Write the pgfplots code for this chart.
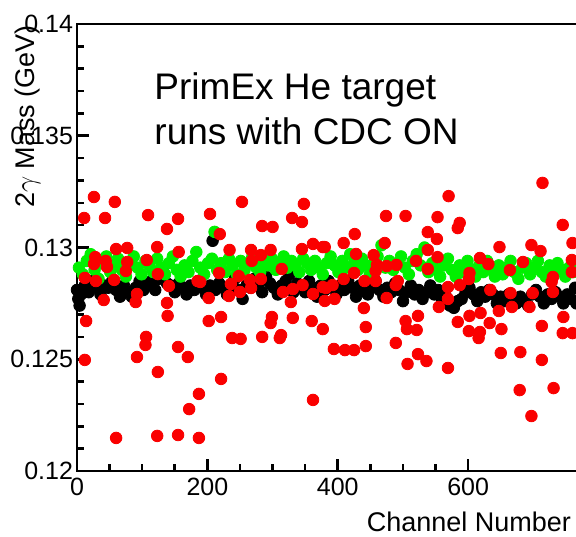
\documentclass[border=0pt]{standalone}
\usepackage{fontspec}
\setmainfont{Liberation Sans}
\usepackage{pgfplots}
\pgfplotsset{compat=1.18}

\definecolor{rootred}{RGB}{250,0,0}
\definecolor{rootgreen}{RGB}{0,240,0}

\begin{document}
\begin{tikzpicture}
\useasboundingbox (-38.5pt,-32.5pt) rectangle (249.5pt,235.5pt);
\begin{axis}[
    at={(0,0)}, anchor=south west,
    scale only axis,
    width=251pt, height=223.5pt,
    xmin=0, xmax=770,
    ymin=0.12, ymax=0.14,
    xtick={0,200,400,600},
    minor x tick num=3,
    ytick={0.12,0.125,0.13,0.135,0.14},
    yticklabels={0.12,0.125,0.13,0.135,0.14},
    minor y tick num=4,
    tick align=inside,
    xtick pos=left, ytick pos=left,
    major tick length=6pt, minor tick length=3.5pt,
    axis line style={line width=1.3pt},
    every tick/.style={black, line width=1.3pt},
    /pgf/number format/assume math mode=true,
    tick label style={font=\fontsize{12.5}{14}\selectfont},
    yticklabel style={xshift=1.5pt},
    xlabel={Channel Number},
    ylabel={2$\gamma$ Mass (GeV)},
    label style={font=\fontsize{13.5}{16}\selectfont},
    xlabel style={at={(axis description cs:0.998,0)}, anchor=base east, yshift=-30pt},
    ylabel style={at={(axis description cs:-0.0976,1.013)}, anchor=east},
    clip=false,
    every axis plot/.append style={only marks, mark=*, mark size=2.9pt},
]
% black series
\addplot[black, mark options={draw=black, fill=black}] coordinates {
(0,0.1281) (2,0.1277) (4,0.1274) (6,0.1279) (12,0.1283) (18,0.1280) (24,0.1285)
(30,0.1282) (36,0.1279) (42,0.1283) (48,0.1282) (54,0.1285) (60,0.1281) (66,0.1278)
(72,0.1283) (78,0.1280) (84,0.1278) (90,0.1282) (96,0.1285) (102,0.1281) (108,0.1283)
(114,0.1285) (120,0.1281) (126,0.1286) (132,0.1289) (138,0.1284) (144,0.1283) (150,0.1280)
(156,0.1284) (162,0.1282) (168,0.1279) (174,0.1283) (180,0.1281) (186,0.1285) (192,0.1282)
(198,0.1279) (204,0.1283) (208,0.1303) (212,0.1281) (218,0.1284) (224,0.1282) (230,0.1279)
(236,0.1283) (242,0.1286) (248,0.1281) (254,0.1277) (260,0.1283) (266,0.1282) (272,0.1286)
(278,0.1283) (284,0.1280) (290,0.1287) (296,0.1284) (302,0.1282) (308,0.1279) (314,0.1283)
(320,0.1285) (326,0.1288) (332,0.1280) (338,0.1284) (344,0.1283) (350,0.1280) (356,0.1285)
(362,0.1282) (368,0.1278) (374,0.1283) (380,0.1281) (386,0.1285) (392,0.1282) (398,0.1279)
(404,0.1283) (410,0.1281) (416,0.1285) (422,0.1282) (428,0.1278) (434,0.1283) (440,0.1281)
(446,0.1279) (452,0.1282) (458,0.1285) (464,0.1281) (470,0.1278) (476,0.1282) (482,0.1280)
(488,0.1284) (494,0.1281) (500,0.1276) (506,0.1280) (512,0.1283) (518,0.1279) (524,0.1281)
(530,0.1277) (536,0.1280) (542,0.1283) (548,0.1279) (554,0.1281) (560,0.1276) (566,0.1278)
(572,0.1274) (578,0.1273) (584,0.1276) (590,0.1277) (596,0.1280) (602,0.1282) (608,0.1279)
(614,0.1276) (620,0.1280) (626,0.1278) (632,0.1281) (638,0.1279) (644,0.1275) (650,0.1278)
(656,0.1276) (662,0.1279) (668,0.1277) (674,0.1275) (680,0.1278) (686,0.1276) (692,0.1274)
(698,0.1279) (704,0.1281) (710,0.1278) (716,0.1275) (722,0.1279) (728,0.1277) (734,0.1280)
(740,0.1278) (746,0.1275) (752,0.1279) (758,0.1277) (764,0.1282) (766,0.1275)
};
% green series
\addplot[rootgreen, mark options={draw=rootgreen, fill=rootgreen}] coordinates {
(3,0.1291) (9,0.1288) (15,0.1294) (21,0.1297) (27,0.1290) (33,0.1286) (39,0.1293)
(45,0.1296) (51,0.1289) (57,0.1292) (63,0.1295) (69,0.1290) (75,0.1287) (81,0.1293)
(87,0.1296) (93,0.1291) (99,0.1288) (105,0.1294) (111,0.1292) (117,0.1289) (123,0.1295)
(129,0.1291) (135,0.1288) (141,0.1293) (147,0.1296) (153,0.1290) (159,0.1287) (165,0.1292)
(171,0.1289) (177,0.1294) (183,0.1298) (189,0.1291) (195,0.1288) (201,0.1293) (207,0.1295)
(211,0.1307) (215,0.1290) (221,0.1293) (227,0.1289) (233,0.1295) (239,0.1292) (245,0.1288)
(251,0.1294) (257,0.1290) (263,0.1293) (269,0.1296) (275,0.1291) (281,0.1289) (287,0.1294)
(293,0.1292) (299,0.1295) (305,0.1290) (311,0.1293) (317,0.1296) (323,0.1291) (329,0.1294)
(335,0.1292) (341,0.1289) (347,0.1295) (353,0.1293) (359,0.1290) (365,0.1294) (371,0.1291)
(377,0.1288) (383,0.1293) (389,0.1296) (395,0.1292) (401,0.1289) (407,0.1294) (413,0.1291)
(419,0.1297) (425,0.1293) (431,0.1290) (437,0.1295) (443,0.1292) (449,0.1288) (455,0.1293)
(461,0.1296) (467,0.1301) (473,0.1291) (479,0.1294) (485,0.1290) (491,0.1293) (497,0.1296)
(503,0.1291) (509,0.1288) (515,0.1294) (521,0.1297) (527,0.1292) (533,0.1300) (539,0.1289)
(545,0.1293) (551,0.1290) (557,0.1287) (563,0.1292) (569,0.1295) (575,0.1290) (581,0.1287)
(587,0.1292) (593,0.1289) (599,0.1294) (605,0.1290) (611,0.1287) (617,0.1292) (623,0.1289)
(629,0.1294) (635,0.1290) (641,0.1287) (647,0.1292) (653,0.1288) (659,0.1291) (665,0.1294)
(671,0.1289) (677,0.1286) (683,0.1291) (689,0.1293) (695,0.1288) (701,0.1291) (707,0.1294)
(713,0.1289) (719,0.1287) (725,0.1292) (731,0.1289) (737,0.1293) (743,0.1290) (749,0.1287)
(755,0.1291) (761,0.1289) (767,0.1292)
};
% red series
\addplot[rootred, mark options={draw=rootred, fill=rootred}] coordinates {
(11,0.13132) (26,0.13226) (58,0.13204) (43,0.13132) (109,0.13145) (155,0.13128) (138,0.13083)
(60,0.12993) (77,0.12998) (123,0.13002) (156,0.12980) (28,0.12957) (44,0.12940) (26,0.12926)
(46,0.12913) (77,0.12935) (107,0.12944) (75,0.12895) (12,0.12864) (29,0.12850) (57,0.12855)
(124,0.12881) (141,0.12828) (185,0.12850) (92,0.12792) (90,0.12756) (41,0.12765) (138,0.12752)
(139,0.12694) (14,0.12671) (106,0.12600) (105,0.12564) (155,0.12555) (92,0.12510) (170,0.12510)
(12,0.12497) (124,0.12443) (187,0.12345) (172,0.12277) (60,0.12148) (123,0.12157) (155,0.12161)
(187,0.12148) (221,0.12412)
(253,0.13204) (204,0.13150) (348,0.13195) (330,0.13132) (345,0.13114) (284,0.13096) (300,0.13092)
(219,0.13060) (234,0.12989) (267,0.12989) (297,0.12989) (282,0.12966) (345,0.12993) (362,0.13016)
(377,0.13002) (268,0.12940) (218,0.12886) (314,0.12904) (248,0.12872) (265,0.12855) (282,0.12859)
(236,0.12837) (189,0.12846) (346,0.12832) (377,0.12823) (267,0.12819) (331,0.12814) (316,0.12801)
(362,0.12792) (250,0.12801) (233,0.12783) (202,0.12774) (328,0.12756) (380,0.12761) (202,0.12671)
(221,0.12689) (299,0.12689) (297,0.12662) (331,0.12685) (360,0.12671) (377,0.12635) (238,0.12595)
(251,0.12591) (284,0.12600) (313,0.12608) (311,0.12595) (362,0.12318)
(570,0.13230) (474,0.13141) (504,0.13141) (553,0.13136) (426,0.13060) (538,0.13069) (552,0.13038)
(409,0.13020) (472,0.13020) (380,0.13002) (428,0.12971) (455,0.12966) (538,0.12989) (553,0.12957)
(520,0.12940) (460,0.12922) (475,0.12917) (490,0.12922) (458,0.12895) (425,0.12886) (538,0.12904)
(409,0.12859) (441,0.12850) (458,0.12850) (492,0.12850) (489,0.12832) (392,0.12832) (382,0.12819)
(569,0.12823) (395,0.12770) (475,0.12774) (569,0.12770) (555,0.12734) (440,0.12729) (523,0.12694)
(504,0.12671) (443,0.12644) (506,0.12635) (521,0.12631) (489,0.12573) (443,0.12559) (394,0.12546)
(411,0.12541) (425,0.12541) (523,0.12523) (536,0.12492) (507,0.12479) (569,0.12461)
(714,0.13289) (587,0.13110) (584,0.13087) (745,0.13101) (760,0.13020) (648,0.13002) (697,0.13011)
(711,0.12984) (618,0.12953) (631,0.12926) (684,0.12935) (759,0.12944) (664,0.12899) (759,0.12890)
(602,0.12886) (601,0.12859) (730,0.12868) (728,0.12846) (587,0.12832) (634,0.12810) (665,0.12796)
(699,0.12796) (730,0.12801) (667,0.12734) (694,0.12734) (647,0.12716) (619,0.12707) (602,0.12694)
(584,0.12667) (633,0.12662) (746,0.12689) (713,0.12649) (651,0.12635) (601,0.12626) (618,0.12622)
(616,0.12595) (745,0.12617) (760,0.12617) (650,0.12528) (680,0.12532) (713,0.12497) (679,0.12362)
(731,0.12371) (697,0.12246)
};
\node[anchor=base west, font=\fontsize{18.5}{22}\selectfont] at (axis cs:108,0.1366) {PrimEx He target};
\node[anchor=base west, font=\fontsize{18.5}{22}\selectfont] at (axis cs:108,0.13463) {runs with CDC ON};
\end{axis}
\end{tikzpicture}
\end{document}
